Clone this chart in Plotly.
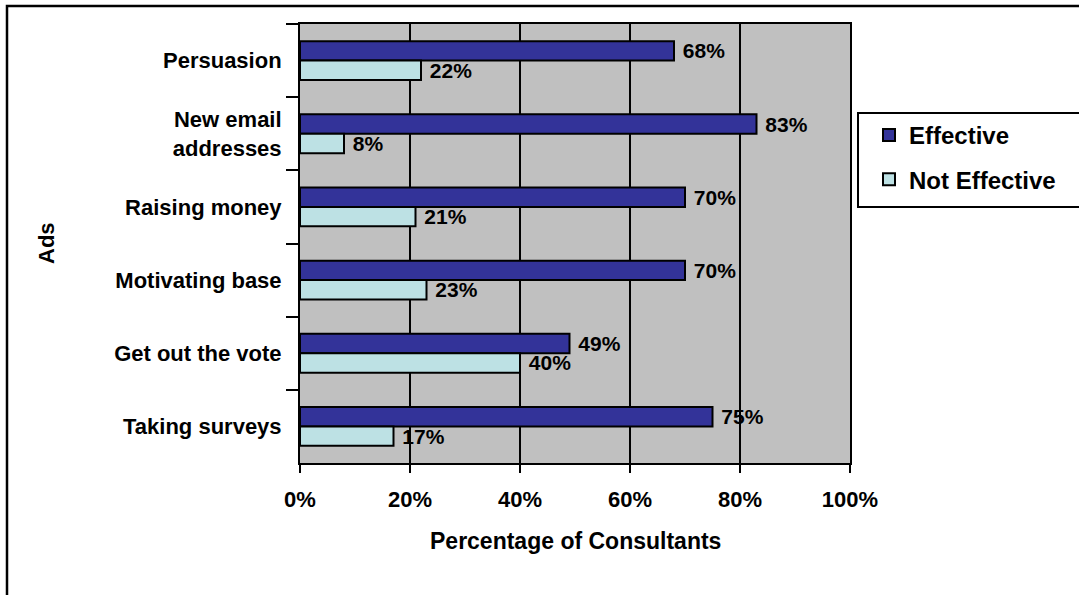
import plotly.graph_objects as go

categories = ["Persuasion", "New email<br>addresses", "Raising money",
              "Motivating base", "Get out the vote", "Taking surveys"]
effective = [68, 83, 70, 70, 49, 75]
not_effective = [22, 8, 21, 23, 40, 17]
x_ticks = [0, 20, 40, 60, 80, 100]
x_tick_labels = ["0%", "20%", "40%", "60%", "80%", "100%"]

FONT = "Liberation Sans, Arial, sans-serif"
W, H = 1079, 595
L, R, T, B = 300, 850, 24, 463

def px_x(p):
    return (p - L) / (R - L)

def px_y(p):
    return (B - p) / (B - T)

fig = go.Figure()
fig.add_trace(go.Bar(
    y=categories, x=effective, orientation="h", name="Effective",
    marker=dict(color="#333399", line=dict(color="black", width=2)),
    text=[f" {v}%" for v in effective], textposition="outside",
    textfont=dict(family=FONT, size=21, color="black", weight="bold"),
    constraintext="none", cliponaxis=False, legendgroup="a",
))
fig.add_trace(go.Bar(
    y=categories, x=not_effective, orientation="h", name="Not Effective",
    marker=dict(color="#BDE1E4", line=dict(color="black", width=2)),
    text=[f" {v}%" for v in not_effective], textposition="outside",
    textfont=dict(family=FONT, size=21, color="black", weight="bold"),
    constraintext="none", cliponaxis=False, legendgroup="b",
))

fig.update_layout(
    width=W, height=H,
    margin=dict(l=L, r=W - R, t=T, b=H - B),
    paper_bgcolor="white", plot_bgcolor="#C0C0C0",
    barmode="group", bargap=0.47, bargroupgap=0.0,
    font=dict(family=FONT, color="black", weight="bold"),
    showlegend=True,
    legend=dict(
        x=px_x(869), xanchor="left", y=px_y(113), yanchor="top",
        bgcolor="rgba(0,0,0,0)", borderwidth=0,
        font=dict(family=FONT, size=24, color="black", weight="bold"),
        traceorder="grouped", tracegroupgap=10,
    ),
    xaxis=dict(
        range=[0, 100], tickvals=x_ticks, ticktext=x_tick_labels,
        showgrid=True, gridcolor="black", gridwidth=2,
        showline=True, linecolor="black", linewidth=2, mirror=True,
        ticks="outside", ticklen=8, tickwidth=2, tickcolor="black",
        tickfont=dict(family=FONT, size=22, color="black", weight="bold"),
        ticklabelstandoff=8, zeroline=False, fixedrange=True,
    ),
    yaxis=dict(
        autorange="reversed", tickson="boundaries",
        showline=True, linecolor="black", linewidth=2, mirror=True,
        ticks="outside", ticklen=12, tickwidth=2, tickcolor="black",
        tickfont=dict(family=FONT, size=22, color="black", weight="bold"),
        ticklabelstandoff=12, showgrid=False, fixedrange=True,
    ),
    shapes=[
        dict(type="rect", xref="paper", yref="paper",
             x0=px_x(7), x1=px_x(1200), y0=px_y(700), y1=px_y(6),
             line=dict(color="black", width=2.5), fillcolor="rgba(0,0,0,0)",
             layer="below"),
        dict(type="rect", xref="paper", yref="paper",
             x0=px_x(858), x1=px_x(1200), y0=px_y(207), y1=px_y(113),
             line=dict(color="black", width=2), fillcolor="rgba(0,0,0,0)"),
    ],
    annotations=[
        dict(text="Ads", xref="paper", yref="paper", x=px_x(47), y=px_y(243),
             xanchor="center", yanchor="middle", textangle=-90, showarrow=False,
             font=dict(family=FONT, size=22, color="black", weight="bold")),
        dict(text="Percentage of Consultants", xref="paper", yref="paper",
             x=px_x(575), y=px_y(541), xanchor="center", yanchor="middle",
             showarrow=False,
             font=dict(family=FONT, size=23, color="black", weight="bold")),
    ],
)

fig.write_html("out.html")
